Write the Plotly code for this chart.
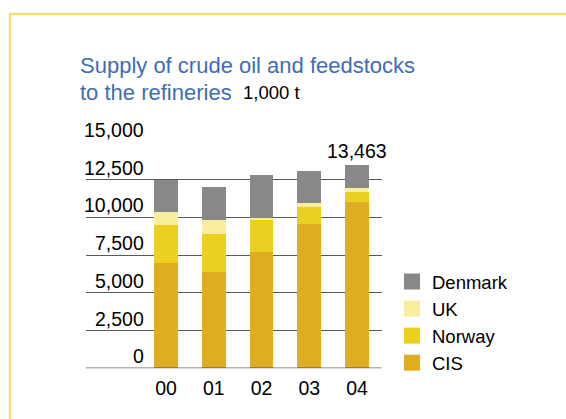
import plotly.graph_objects as go

W, H = 566, 419

years = ["00", "01", "02", "03", "04"]
cis = [6980, 6390, 7710, 9570, 11030]
norway = [2520, 2510, 2120, 1120, 660]
uk = [860, 930, 130, 270, 270]
denmark = [2120, 2190, 2850, 2120, 1503]
total_label = "13,463"
y_ticks = [0, 2500, 5000, 7500, 10000, 12500, 15000]
y_tick_text = ["0", "2,500", "5,000", "7,500", "10,000", "12,500", "15,000"]

series = [
    ("CIS", cis, "#E0AC22"),
    ("Norway", norway, "#EBD020"),
    ("UK", uk, "#F9EE9E"),
    ("Denmark", denmark, "#888888"),
]

FONT = "Liberation Sans, Arial, Helvetica, sans-serif"
FS = 19.5

fig = go.Figure()
for name, vals, col in series:
    fig.add_trace(go.Bar(x=years, y=vals, name=name, marker=dict(color=col, line=dict(width=0)),
                         width=0.5, showlegend=False, hoverinfo="skip"))
# legend entries with larger square swatches
for name, vals, col in series:
    fig.add_trace(go.Scatter(x=[None], y=[None], mode="markers", name=name,
                             marker=dict(symbol="square", size=16, color=col), showlegend=True))

def px_x(p):
    return p / W

def px_y(p):
    return (H - p) / H

y0_px, y15_px = 368.3, 142.0
x_left, x_right = 86.0, 381.7
c0, step = 166.0, 47.75

fig.update_layout(
    width=W, height=H,
    margin=dict(l=0, r=0, t=0, b=0),
    paper_bgcolor="white", plot_bgcolor="white",
    barmode="stack",
    font=dict(family=FONT, size=FS, color="black"),
    xaxis=dict(domain=[px_x(x_left), px_x(x_right)],
               range=[-(c0 - x_left) / step, 4 + (x_right - (c0 + 4 * step)) / step],
               type="category", showgrid=False, zeroline=False, showline=False,
               ticks="outside", ticklen=2, tickcolor="rgba(0,0,0,0)",
               tickfont=dict(size=FS, family=FONT, color="black")),
    yaxis=dict(domain=[px_y(y0_px), px_y(y15_px)], range=[0, 15000],
               tickvals=y_ticks, showticklabels=False, showgrid=True,
               gridcolor="#5a5a5a", gridwidth=1.3, zeroline=False, showline=False),
    legend=dict(x=px_x(392), y=px_y(263), xanchor="left", yanchor="top",
                traceorder="reversed", font=dict(size=18.5, family=FONT, color="black"),
                bgcolor="rgba(0,0,0,0)", itemclick=False),
    showlegend=True,
)

# y tick labels sitting above the gridlines
for v, t in zip(y_ticks, y_tick_text):
    fig.add_annotation(x=px_x(146), xref="paper", y=v, yref="y", text=t, showarrow=False,
                       xanchor="right", yanchor="bottom", yshift=-1,
                       font=dict(size=FS, family=FONT, color="black"))

# zero line drawn over the bars
fig.add_shape(type="line", xref="paper", yref="y", x0=px_x(x_left), x1=px_x(x_right), y0=0, y1=0,
              line=dict(color="rgba(40,40,40,0.7)", width=1.5), layer="above")

# total label above last bar
total = cis[-1] + norway[-1] + uk[-1] + denmark[-1]
fig.add_annotation(x=years[-1], y=total, xref="x", yref="y", text=total_label, showarrow=False,
                   yanchor="bottom", yshift=1, font=dict(size=FS, family=FONT, color="black"))

# title
fig.add_annotation(x=px_x(78), y=px_y(65), xref="paper", yref="paper", xanchor="left", yanchor="middle",
                   text="Supply of crude oil and feedstocks", showarrow=False,
                   font=dict(size=22, family=FONT, color="#3F6DB4"))
fig.add_annotation(x=px_x(78), y=px_y(92), xref="paper", yref="paper", xanchor="left", yanchor="middle",
                   text="to the refineries", showarrow=False,
                   font=dict(size=22, family=FONT, color="#3F6DB4"))
fig.add_annotation(x=px_x(241), y=px_y(93), xref="paper", yref="paper", xanchor="left", yanchor="middle",
                   text="1,000 t", showarrow=False,
                   font=dict(size=18.5, family=FONT, color="black"))

# yellow frame
fig.add_shape(type="rect", xref="paper", yref="paper", x0=px_x(10), x1=1.1, y0=-0.1, y1=px_y(14),
              line=dict(color="#F7DF74", width=2.5), fillcolor="rgba(0,0,0,0)", layer="below")

fig.write_html("out.html", config={"displayModeBar": False},
               post_script="document.body.style.margin='0';")
